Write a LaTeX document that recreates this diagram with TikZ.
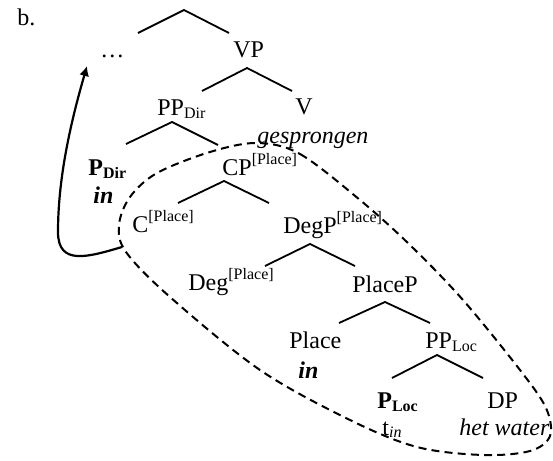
\documentclass[tikz,border=0pt]{standalone}
\usepackage{fontspec}
\setmainfont{Liberation Serif}
\usetikzlibrary{arrows.meta}
\newcommand\mysub[1]{\raisebox{-1.7pt}{\fontsize{8}{9}\selectfont #1}}
\newcommand\mysup[1]{\raisebox{5.5pt}{\fontsize{8}{9}\selectfont #1}}
\tikzset{
  lab/.style={inner sep=0pt, anchor=base west, font=\fontsize{12}{14}\selectfont},
  branch/.style={line width=0.9pt},
  loop/.style={line width=1pt, dash pattern=on 4pt off 2.6pt},
  movearrow/.style={line width=1.1pt, -{Latex[length=5pt,width=5pt]}}
}
\begin{document}
\begin{tikzpicture}[x=0.5pt,y=-0.5pt]
\useasboundingbox (0,0) rectangle (553,461);
% labels
\node[lab] (b) at (17,25) {b.};
\node[lab] (dots) at (100,57) {…};
\node[lab] (vp) at (233,57) {VP};
\node[lab] (ppdir) at (157,115) {PP\mysub{Dir}};
\node[lab] (v) at (295,114) {V};
\node[lab] (gespr) at (257,143) {\itshape gesprongen};
\node[lab] (pdir) at (88,175) {\bfseries P\mysub{\bfseries Dir}};
\node[lab] (indir) at (93,203) {\bfseries\itshape in};
\node[lab] (cp) at (222,175) {CP\mysup{[Place]}};
\node[lab] (c) at (132,232) {C\mysup{[Place]}};
\node[lab] (degp) at (283,233) {DegP\mysup{[Place]}};
\node[lab] (deg) at (188,290) {Deg\mysup{[Place]}};
\node[lab] (placep) at (352,292) {PlaceP};
\node[lab] (place) at (289,348) {Place};
\node[lab] (inplace) at (298,378) {\bfseries\itshape in};
\node[lab] (pploc) at (425,348) {PP\mysub{Loc}};
\node[lab] (ploc) at (377,408) {\bfseries P\mysub{\bfseries Loc}};
\node[lab] (dp) at (487,408) {DP};
\node[lab] (tin) at (382,435) {t\raisebox{-1pt}{\fontsize{8}{9}\selectfont\itshape in}};
\node[lab] (hetwater) at (459,435) {\itshape het water};
% branch points
\coordinate (t0) at (184,10);   \coordinate (t1) at (138,33);  \coordinate (t2) at (229,33);
\coordinate (vp0) at (247,68);  \coordinate (vp1) at (202,91); \coordinate (vp2) at (292,91);
\coordinate (pd0) at (172,122); \coordinate (pd1) at (126,144);\coordinate (pd2) at (218,145);
\coordinate (cp0) at (224,181); \coordinate (cp1) at (178,203);\coordinate (cp2) at (269,203);
\coordinate (dg0) at (310,244); \coordinate (dg1) at (265,266);\coordinate (dg2) at (355,266);
\coordinate (pl0) at (385,302); \coordinate (pl1) at (339,323);\coordinate (pl2) at (430,323);
\coordinate (lc0) at (437,355); \coordinate (lc1) at (392,378);\coordinate (lc2) at (483,378);
\draw[branch] (t1) -- (t0) -- (t2);
\draw[branch] (vp1) -- (vp0) -- (vp2);
\draw[branch] (pd1) -- (pd0) -- (pd2);
\draw[branch] (cp1) -- (cp0) -- (cp2);
\draw[branch] (dg1) -- (dg0) -- (dg2);
\draw[branch] (pl1) -- (pl0) -- (pl2);
\draw[branch] (lc1) -- (lc0) -- (lc2);
% dashed loop
\draw[loop] plot[smooth cycle, tension=0.55] coordinates {
 (257,143) (300,154) (360,200) (410,245) (463,300) (520,370) (546,408)
 (550,436) (530,451) (483,455) (417,447) (350,420) (260,370) (170,297)
 (126,252) (119,225) (130,197) (157,173) (210,152)};
% movement arrow
\coordinate (arrS) at (122,247);
\coordinate (arrE) at (87,66);
\draw[movearrow] (arrS) .. controls (88,257) and (58,266) .. (58,232)
  .. controls (58,175) and (72,118) .. (arrE);
\end{tikzpicture}
\end{document}
